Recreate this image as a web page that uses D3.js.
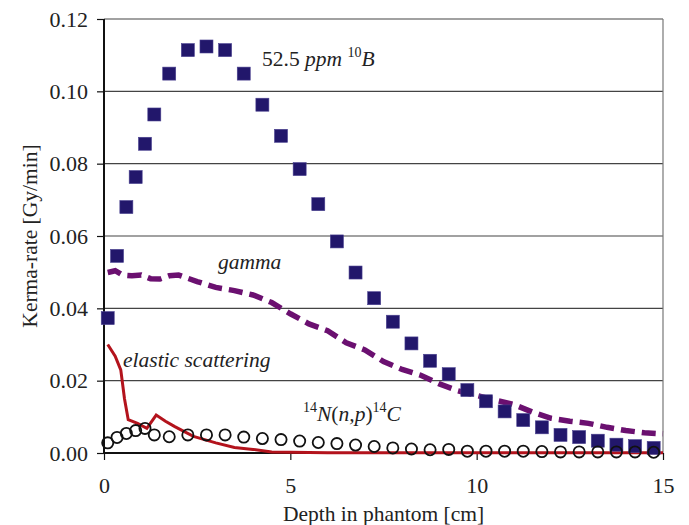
<!DOCTYPE html>
<html>
<head>
<meta charset="utf-8">
<script src="https://cdn.jsdelivr.net/npm/d3@7"></script>
</head>
<body style="margin:0; background:#fff">
<svg id="chart" width="689" height="525" font-family="Liberation Serif"></svg>
<script>
//Profondeurs communes aux carrés et aux cercles
const depths = [0.1, 0.35, 0.6, 0.85, 1.1, 1.35, 1.75, 2.25, 2.75, 3.25, 3.75, 4.25, 4.75,
    5.25, 5.75, 6.25, 6.75, 7.25, 7.75, 8.25, 8.75, 9.25, 9.75, 10.25, 10.75, 11.25,
    11.75, 12.25, 12.75, 13.25, 13.75, 14.25, 14.75];

//52.5 ppm 10B
const boronValues = [0.0373, 0.0545, 0.0680, 0.0763, 0.0855, 0.0936, 0.1049, 0.1114, 0.1124,
    0.1114, 0.1049, 0.0963, 0.0877, 0.0785, 0.0688, 0.0585, 0.0499, 0.0428, 0.0363, 0.0303,
    0.0255, 0.0218, 0.0174, 0.0143, 0.0115, 0.0091, 0.0071, 0.0050, 0.0044, 0.0034, 0.0023,
    0.0019, 0.0014];

//14N(n,p)14C
const nitrogenValues = [0.0028, 0.0043, 0.0054, 0.0062, 0.0068, 0.0050, 0.0045, 0.0050, 0.0050,
    0.0050, 0.0044, 0.0040, 0.0037, 0.0033, 0.0029, 0.0026, 0.0022, 0.0018, 0.0014, 0.0011,
    0.0009, 0.0010, 0.0005, 0.0005, 0.0005, 0.0005, 0.0004, 0.0003, 0.0003, 0.0003, 0.0003,
    0.0003, 0.0002];

//gamma
const gammaDepths = [0.1, 0.3, 0.5, 0.75, 1.0, 1.25, 1.5, 1.75, 2.0, 2.5, 3.0, 3.5, 4.0, 4.5,
    5.0, 5.5, 6.0, 6.5, 7.0, 7.5, 8.0, 8.5, 9.0, 9.5, 10.0, 10.5, 11.0, 11.5, 12.0, 12.5,
    13.0, 13.5, 14.0, 14.5, 15.0];
const gammaValues = [0.0499, 0.0504, 0.0492, 0.0490, 0.0492, 0.0482, 0.0481, 0.0490, 0.0492,
    0.0474, 0.0458, 0.0449, 0.0437, 0.0416, 0.0385, 0.0357, 0.0338, 0.0305, 0.0285, 0.0253,
    0.0231, 0.0215, 0.0191, 0.0172, 0.0159, 0.0146, 0.0134, 0.0113, 0.0096, 0.0088, 0.0082,
    0.0071, 0.0062, 0.0056, 0.0053];

//elastic scattering
const elasticDepths = [0.1, 0.3, 0.45, 0.55, 0.65, 0.9, 1.15, 1.4, 1.65, 1.9, 2.4, 3.0, 3.5,
    4.0, 4.5, 5.0, 6.0, 8.0, 10.0, 12.0, 15.0];
const elasticValues = [0.0300, 0.0268, 0.0230, 0.0150, 0.0092, 0.0082, 0.0068, 0.0105, 0.0088,
    0.0073, 0.0046, 0.0028, 0.0015, 0.0010, 0.0003, 0.0002, 0.0001, 0.0001, 0.0001, 0.0001,
    0.0001];

const xTicks = [0, 5, 10, 15];
const yTicks = [0, 0.02, 0.04, 0.06, 0.08, 0.10, 0.12];

const serif = "\"Liberation Serif\"";
const textColor = "#222";
const fontSize = 21.5;

const margin = { top: 19, right: 26, bottom: 72, left: 104 };
const svg = d3.select("#chart");
const width = +svg.attr("width") - margin.left - margin.right;
const height = +svg.attr("height") - margin.top - margin.bottom;

const x = d3.scaleLinear().domain([0, 15]).range([0, width]);
const y = d3.scaleLinear().domain([0, 0.12]).range([height, 0]);

const g = svg.append("g").attr("transform", `translate(${margin.left},${margin.top})`);

//Lignes horizontales
g.append("g")
    .selectAll("line")
    .data(yTicks.slice(1))
    .join("line")
    .attr("x1", 0).attr("x2", width)
    .attr("y1", d => y(d)).attr("y2", d => y(d))
    .attr("stroke", "#444").attr("stroke-width", 1.2);

//Bordure droite
g.append("line")
    .attr("x1", width).attr("x2", width)
    .attr("y1", 0).attr("y2", height)
    .attr("stroke", "#777").attr("stroke-width", 1.2);

//Axes
const xAxis = g.append("g")
    .attr("transform", `translate(0,${height})`)
    .call(d3.axisBottom(x).tickValues(xTicks).tickFormat(d3.format("d")).tickSize(7).tickPadding(17));
const yAxis = g.append("g")
    .call(d3.axisLeft(y).tickValues(yTicks).tickFormat(d3.format(".2f")).tickSize(7).tickPadding(9));

[xAxis, yAxis].forEach(a => {
    a.attr("font-family", null).attr("font-size", null);
    a.select(".domain").attr("stroke", "#111").attr("stroke-width", 2);
    a.selectAll(".tick line").attr("stroke", "#111").attr("stroke-width", 1.2);
    a.selectAll(".tick text")
        .style("font-family", serif).style("font-size", "22px").style("fill", textColor);
});
xAxis.select(".domain").attr("d", `M0,0H${width}`);
yAxis.select(".domain").attr("d", `M0,${height}V0`);

//elastic scattering
g.append("path")
    .datum(elasticDepths.map((d, i) => [d, elasticValues[i]]))
    .attr("fill", "none")
    .attr("stroke", "#b3131c")
    .attr("stroke-width", 3)
    .attr("d", d3.line().x(d => x(d[0])).y(d => y(d[1])));

//gamma
g.append("path")
    .datum(gammaDepths.map((d, i) => [d, gammaValues[i]]))
    .attr("fill", "none")
    .attr("stroke", "#6b1070")
    .attr("stroke-width", 5.5)
    .attr("stroke-dasharray", "14,7")
    .attr("d", d3.line().x(d => x(d[0])).y(d => y(d[1])));

//52.5 ppm 10B
const sq = 13;
g.append("g")
    .selectAll("rect")
    .data(depths.map((d, i) => [d, boronValues[i]]))
    .join("rect")
    .attr("x", d => x(d[0]) - sq / 2)
    .attr("y", d => y(d[1]) - sq / 2)
    .attr("width", sq).attr("height", sq)
    .attr("fill", "#22176b")
    .attr("stroke", "#4a4190").attr("stroke-width", 0.6);

//14N(n,p)14C
g.append("g")
    .selectAll("circle")
    .data(depths.map((d, i) => [d, nitrogenValues[i]]))
    .join("circle")
    .attr("cx", d => x(d[0]))
    .attr("cy", d => y(d[1]))
    .attr("r", 5.6)
    .attr("fill", "none")
    .attr("stroke", "#111")
    .attr("stroke-width", 1.8);

//petit utilitaire pour les textes
function label(parent, px, py) {
    return parent.append("text")
        .attr("x", px).attr("y", py)
        .style("font-family", serif).style("font-size", fontSize + "px").style("fill", textColor);
}
function part(t, txt, italic, sup) {
    const s = t.append("tspan").text(txt);
    if (italic) s.style("font-style", "italic");
    if (sup) s.style("font-size", "14px").attr("dy", sup);
    return s;
}

//Titres des axes
label(svg, margin.left + width / 2, 521)
    .attr("text-anchor", "middle")
    .text("Depth in phantom [cm]");
label(svg, 0, 0)
    .attr("transform", `translate(37,${margin.top + height / 2}) rotate(-90)`)
    .attr("text-anchor", "middle")
    .text("Kerma-rate [Gy/min]");

//Étiquettes des séries
const boronLabel = label(svg, 262, 66);
part(boronLabel, "52.5 ");
part(boronLabel, "ppm ", true);
part(boronLabel, "10", false, -9);
part(boronLabel, "B", true).attr("dy", 9);

label(svg, 218, 269).style("font-style", "italic").text("gamma");
label(svg, 123, 367).style("font-style", "italic").text("elastic scattering");

const nLabel = label(svg, 303, 421);
part(nLabel, "14", false, -9);
part(nLabel, "N", true).attr("dy", 9);
part(nLabel, "(");
part(nLabel, "n,p", true);
part(nLabel, ")");
part(nLabel, "14", false, -9);
part(nLabel, "C", true).attr("dy", 9);
</script>
</body>
</html>
